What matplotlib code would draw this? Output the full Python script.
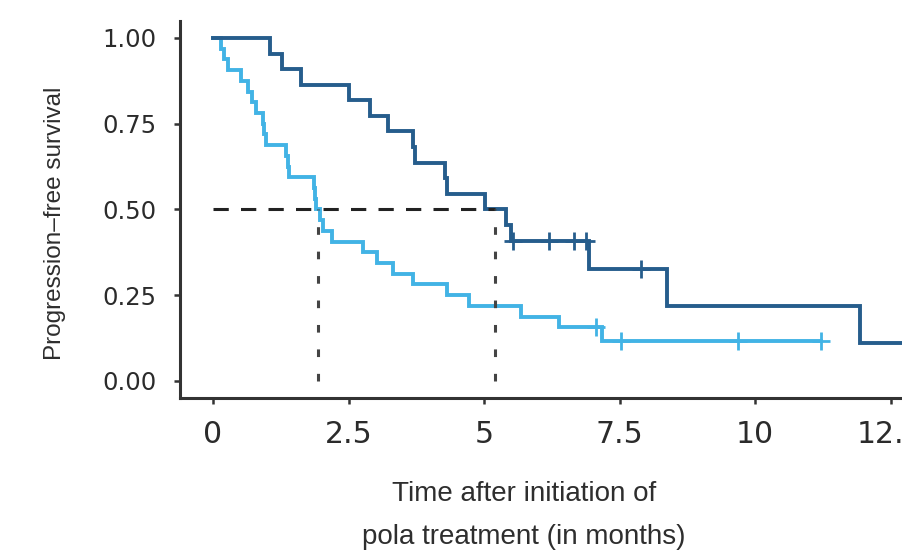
import numpy as np
import matplotlib
matplotlib.use("Agg")
import matplotlib.pyplot as plt
from matplotlib import font_manager

# follow-up times (months) and event flags (1 = progression, 0 = censored)
light_times = [0.14, 0.20, 0.27, 0.51, 0.64, 0.72, 0.79, 0.92, 0.95, 0.97,
               1.35, 1.38, 1.40, 1.86, 1.88, 1.90, 1.97, 2.03, 2.20,
               2.77, 3.03, 3.32, 3.69, 4.31, 4.73, 5.69, 6.39,
               7.06, 7.17, 7.52, 9.69, 11.21]
light_events = [1] * 27 + [0, 1, 0, 0, 0]

dark_times = [1.06, 1.27, 1.63, 2.50, 2.90, 3.23, 3.69, 3.72, 4.28, 4.32,
              5.01, 5.41, 5.50, 5.53, 6.20, 6.66, 6.88, 6.94, 7.90, 8.37,
              11.93, 12.90]
dark_events = [1] * 13 + [0, 0, 0, 0, 1, 0, 1, 1, 0]

x_ticks = [0, 2.5, 5, 7.5, 10, 12.5]
x_labels = ["0", "2.5", "5", "7.5", "10", "12.5"]
y_ticks = [0, 0.25, 0.5, 0.75, 1.0]
y_labels = ["0.00", "0.25", "0.50", "0.75", "1.00"]

LIGHT = "#42b3e5"
DARK = "#265d8c"


def km(times, events):
    """Kaplan-Meier step coordinates and censor points."""
    order = np.argsort(times, kind="stable")
    t = np.asarray(times, float)[order]
    e = np.asarray(events)[order]
    n = len(t)
    s = 1.0
    xs, ys = [0.0], [1.0]
    cx, cy = [], []
    ev_t, ev_s = [], []
    for i in range(n):
        at_risk = n - i
        if e[i]:
            s *= (at_risk - 1) / at_risk
            xs.append(t[i])
            ys.append(s)
            ev_t.append(t[i])
            ev_s.append(s)
        else:
            cx.append(t[i])
            cy.append(s)
    xs.append(t[-1])
    ys.append(s)
    return xs, ys, cx, cy, ev_t, ev_s


def median(ev_t, ev_s):
    for i, (tt, ss) in enumerate(zip(ev_t, ev_s)):
        if abs(ss - 0.5) < 1e-9 and i + 1 < len(ev_t):
            return (tt + ev_t[i + 1]) / 2
        if ss < 0.5:
            return tt
    return None


def has_font(name):
    try:
        font_manager.findfont(font_manager.FontProperties(family=name),
                              fallback_to_default=False)
        return True
    except Exception:
        return False


narrow = has_font("Liberation Sans Narrow")

fig = plt.figure(figsize=(9.03, 5.54), dpi=100)
W, H = 903, 554
px_month = 54.2
x0 = -33 / px_month
x1 = 13.2
ax = fig.add_axes([180 / W, (H - 398) / H, (x1 - x0) * px_month / W, (398 - 20.8) / H])

meds = []
for times, events, col, z in [(light_times, light_events, LIGHT, 2),
                              (dark_times, dark_events, DARK, 3)]:
    xs, ys, cx, cy, ev_t, ev_s = km(times, events)
    ax.plot(xs, ys, drawstyle="steps-post", color=col, lw=2.8, zorder=z,
            solid_joinstyle="miter")
    ax.plot(cx, cy, ls="none", marker="+", ms=13, mew=2, color=col, zorder=z)
    meds.append(median(ev_t, ev_s))

# median survival lines
ax.plot([0, max(meds)], [0.5, 0.5], color="#222222", lw=2.2,
        dashes=(5, 4), zorder=5)
for m in meds:
    ax.plot([m, m], [0, 0.5], color="#444444", lw=2.2, dashes=(2.5, 5.5), zorder=5)

ax.set_xlim(x0, x1)
ax.set_ylim(-0.05, 1.05)
ax.set_xticks(x_ticks)
ax.set_xticklabels(x_labels)
ax.set_yticks(y_ticks)
ax.set_yticklabels(y_labels)
for sp in ["top", "right"]:
    ax.spines[sp].set_visible(False)
for sp in ["left", "bottom"]:
    ax.spines[sp].set_linewidth(2.2)
    ax.spines[sp].set_color("#333333")
ax.tick_params(axis="x", length=4, width=1.8, color="#333333", pad=12,
               labelsize=21.5, labelcolor="#2b2b2b")
ax.tick_params(axis="y", length=4, width=1.8, color="#333333", pad=13,
               labelsize=17.5, labelcolor="#2b2b2b")
for lab in ax.get_xticklabels() + ax.get_yticklabels():
    lab.set_family("DejaVu Sans")

if narrow:
    fig.text(55 / W, 1 - 223 / H, "Progression\u2013free survival", rotation=90,
             ha="center", va="center", family="Liberation Sans Narrow",
             fontsize=21, color="#2e2e2e")
else:
    fig.text(55 / W, 1 - 223 / H, "Progression\u2013free survival", rotation=90,
             ha="center", va="center", family="Liberation Sans",
             fontsize=17.5, color="#2e2e2e")

fig.text(524 / W, 1 - 494 / H, "Time after initiation of", ha="center",
         va="center", family="Liberation Sans", fontsize=20, color="#2e2e2e")
fig.text(524 / W, 1 - 537 / H, "pola treatment (in months)", ha="center",
         va="center", family="Liberation Sans", fontsize=20, color="#2e2e2e")

fig.savefig("out.png", dpi=100)
